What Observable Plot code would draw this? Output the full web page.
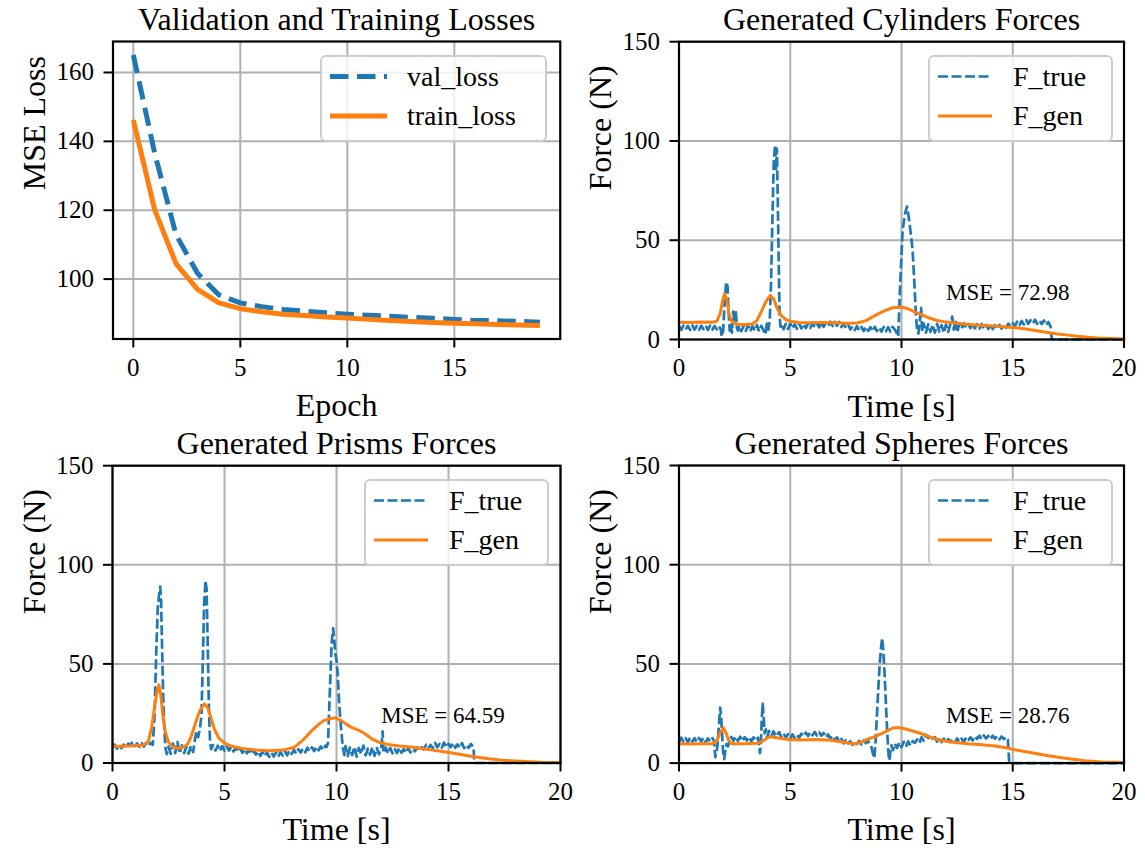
<!DOCTYPE html>
<html><head><meta charset="utf-8">
<script src="https://cdn.jsdelivr.net/npm/d3@7"></script>
<script src="https://cdn.jsdelivr.net/npm/@observablehq/plot@0.6"></script>
<style>
body{margin:0;background:#fff;}
#page{position:relative;width:1145px;height:854px;overflow:hidden;font-family:'Liberation Serif','Times New Roman',serif;background:#fff;}
.panel{position:absolute;}
.legend{position:absolute;box-sizing:border-box;border:2px solid rgba(200,200,200,0.9);border-radius:6px;background:rgba(255,255,255,0.8);}
</style></head><body><div id="page"></div>
<script>
// ---------------- DATA ----------------
const epochs = [0,1,2,3,4,5,6,7,8,9,10,11,12,13,14,15,16,17,18,19];
const valLoss = [165.1,136.5,112.8,101.7,95.4,93.1,92.0,91.2,90.7,90.2,89.8,89.5,89.2,88.9,88.6,88.3,88.0,87.9,87.7,87.5];
const trainLoss = [146.2,120.1,104.4,97.0,93.1,91.4,90.5,89.8,89.4,89.0,88.7,88.3,88.0,87.7,87.4,87.2,87.0,86.8,86.7,86.5];
const lossSeries = ["val_loss","train_loss"];
const forceSeries = ["F_true","F_gen"];
const lossTicksX = [0,5,10,15];
const lossTicksY = [100,120,140,160];
const forceTicksX = [0,5,10,15,20];
const forceTicksY = [0,50,100,150];
const titles = ["Validation and Training Losses","Generated Cylinders Forces","Generated Prisms Forces","Generated Spheres Forces"];
const mseLabels = ["MSE = 72.98","MSE = 64.59","MSE = 28.76"];
const msePos = [12,20];

// Cylinders [time s, force N]
const cylTrue = [[0,6.8],[0.1,4.9],[0.2,7.0],[0.3,5.1],[0.4,6.9],[0.5,4.8],[0.6,7.1],[0.7,5.0],[0.8,6.8],[0.9,4.9],[1.0,7.0],[1.1,5.2],[1.2,6.9],[1.3,4.8],[1.4,7.0],[1.5,5.0],[1.6,6.8],[1.7,5.1],[1.8,6.9],[1.88,5.0],[1.92,1.5],[1.98,4],[2.05,18],[2.12,29],[2.18,27],[2.24,12],[2.28,4.5],[2.33,8],[2.38,3.5],[2.44,14],[2.5,9],[2.55,15],[2.6,6],[2.65,4.5],[2.7,7.0],[2.8,4.2],[2.9,6.8],[3.0,4.3],[3.1,7.2],[3.2,4.1],[3.3,6.7],[3.4,4.4],[3.5,7.3],[3.6,4.0],[3.7,6.9],[3.8,4.6],[3.88,2.5],[3.95,8],[4.02,5],[4.08,10],[4.14,30],[4.2,62],[4.26,90],[4.32,98],[4.36,85],[4.4,96],[4.44,70],[4.48,40],[4.52,12],[4.56,6.5],[4.6,8],[4.7,5.2],[4.8,7.9],[4.9,5.3],[5.0,8.0],[5.1,5.5],[5.2,7.8],[5.3,5.4],[5.4,8.1],[5.5,5.6],[5.6,7.9],[5.7,5.7],[5.8,8.0],[5.9,5.8],[6.0,8.3],[6.1,6.0],[6.2,8.2],[6.3,6.1],[6.4,8.6],[6.5,6.4],[6.6,8.5],[6.7,6.6],[6.8,9.0],[6.9,6.8],[7.0,8.8],[7.1,6.9],[7.2,8.9],[7.3,6.3],[7.4,7.9],[7.5,5.8],[7.6,7.6],[7.7,5.0],[7.8,6.6],[7.9,4.7],[8.0,6.7],[8.1,4.5],[8.2,6.3],[8.3,4.2],[8.4,6.5],[8.5,4.3],[8.6,6.2],[8.7,4.1],[8.8,6.4],[8.9,4.2],[9.0,6.1],[9.1,4.0],[9.2,6.3],[9.3,4.1],[9.4,6.2],[9.5,4.0],[9.6,6.4],[9.75,4.2],[9.85,1.5],[9.95,30],[10.05,55],[10.15,63],[10.25,67],[10.32,62],[10.4,55],[10.5,45],[10.58,28],[10.65,12],[10.7,5],[10.76,3],[10.82,9],[10.88,16],[10.93,4],[11.0,8.0],[11.1,3.5],[11.2,7.6],[11.3,3.8],[11.4,7.5],[11.5,3.4],[11.6,7.9],[11.7,4.0],[11.8,7.2],[11.9,3.3],[12.0,7.5],[12.1,3.8],[12.2,8],[12.28,11.5],[12.35,5],[12.42,10],[12.5,3.5],[12.6,7.9],[12.7,5.4],[12.8,8.2],[12.9,5.8],[13.0,7.9],[13.1,5.7],[13.2,8.1],[13.3,5.6],[13.4,7.7],[13.5,5.5],[13.6,7.8],[13.7,5.4],[13.8,7.4],[13.9,5.3],[14.0,7.5],[14.1,5.2],[14.2,7.2],[14.3,5.3],[14.4,7.4],[14.5,5.5],[14.6,7.3],[14.7,6.0],[14.8,8.0],[14.9,6.3],[15.0,8.2],[15.1,6.8],[15.2,9.0],[15.3,7.2],[15.4,9.3],[15.5,7.6],[15.6,9.8],[15.7,7.9],[15.8,9.7],[15.9,8.0],[16.0,10.0],[16.1,7.9],[16.2,9.6],[16.3,7.8],[16.4,9.6],[16.5,7.2],[16.6,8.8],[16.7,6.5],[16.75,0.5],[16.8,0],[17.5,0],[18.5,0],[20,0]];
const cylGen = [[0,8.7],[0.5,8.6],[1.0,8.8],[1.5,8.7],[1.7,9.2],[1.85,13],[1.95,19],[2.05,23],[2.15,20],[2.25,13],[2.35,9.5],[2.5,8.2],[2.7,7.6],[3.0,7.5],[3.3,7.8],[3.5,9.5],[3.7,14],[3.9,19],[4.1,22.2],[4.25,20.5],[4.4,16],[4.6,12],[4.8,10],[5.0,9.2],[5.4,8.6],[6.0,8.5],[6.5,8.6],[7.0,8.4],[7.5,8.2],[8.0,8.3],[8.4,9.5],[8.8,12],[9.2,14.3],[9.6,16],[10.0,16.4],[10.3,15.5],[10.6,13.8],[11.0,12],[11.25,10.8],[11.6,9.6],[11.9,9.0],[12.4,8.3],[12.9,7.7],[13.5,7.2],[14.2,6.8],[15.0,6.1],[15.5,5.4],[16.0,4.5],[16.5,3.6],[17.0,2.8],[17.5,2.2],[17.9,1.6],[18.4,1.1],[18.8,0.8],[19.4,0.5],[20,0.3]];

// Prisms
const priTrue = [[0,7.4],[0.1,9.2],[0.2,7.3],[0.3,9.1],[0.4,7.5],[0.5,9.3],[0.6,7.6],[0.7,9.8],[0.8,8.8],[0.9,10.8],[1.0,8.5],[1.1,9.9],[1.2,8.2],[1.3,10.0],[1.4,8.3],[1.5,9.9],[1.6,8.4],[1.7,10.1],[1.8,9.2],[1.88,25],[1.95,55],[2.02,78],[2.08,85],[2.13,89],[2.17,82],[2.21,60],[2.26,35],[2.31,18],[2.36,8],[2.42,4.5],[2.5,8.2],[2.6,4.6],[2.7,9.8],[2.8,5.0],[2.9,10.6],[3.0,4.8],[3.1,8.9],[3.2,5.0],[3.3,8.3],[3.4,4.7],[3.5,8.6],[3.6,5.5],[3.68,12],[3.75,16],[3.82,13],[3.9,17],[3.97,24],[4.03,50],[4.09,80],[4.15,92],[4.2,88],[4.25,60],[4.3,30],[4.35,12],[4.4,7.0],[4.5,9.0],[4.6,6.3],[4.7,8.7],[4.8,6.1],[4.9,8.5],[5.0,6.2],[5.1,8.4],[5.2,6.3],[5.3,8.2],[5.4,5.8],[5.5,7.8],[5.6,5.6],[5.7,7.4],[5.8,5.1],[5.9,7.0],[6.0,4.9],[6.1,6.6],[6.2,4.4],[6.3,6.3],[6.4,4.2],[6.5,5.9],[6.6,3.6],[6.7,5.6],[6.8,3.4],[6.9,5.4],[7.0,3.1],[7.1,5.2],[7.2,3.3],[7.3,5.3],[7.4,3.2],[7.5,5.6],[7.6,3.7],[7.7,5.9],[7.8,3.9],[7.9,6.3],[8.0,4.6],[8.1,6.6],[8.2,4.7],[8.3,7.0],[8.4,5.3],[8.5,7.3],[8.6,5.4],[8.7,7.7],[8.8,5.9],[8.9,7.9],[9.0,6.0],[9.1,8.3],[9.2,6.4],[9.3,8.4],[9.4,6.5],[9.5,8.7],[9.55,8.0],[9.62,10],[9.7,35],[9.78,60],[9.85,68],[9.9,62],[9.95,55],[10.0,52],[10.05,45],[10.12,30],[10.2,18],[10.28,8],[10.35,4],[10.4,8.5],[10.5,3.5],[10.6,7.8],[10.7,4.0],[10.8,8.2],[10.9,3.2],[11.0,7.6],[11.1,4.5],[11.2,8.8],[11.3,3.8],[11.4,7.2],[11.5,4.2],[11.6,8.0],[11.7,3.6],[11.8,7.5],[11.9,4.4],[12.0,8.3],[12.06,16],[12.1,5],[12.2,7.8],[12.3,4.7],[12.4,7.6],[12.5,4.9],[12.6,7.0],[12.7,5.0],[12.8,7.7],[12.9,5.2],[13.0,7.0],[13.1,5.1],[13.2,7.6],[13.3,5.3],[13.4,7.1],[13.5,5.9],[13.6,8.0],[13.7,6.4],[13.8,8.0],[13.9,6.8],[14.0,9.2],[14.1,7.4],[14.2,9.1],[14.3,7.6],[14.4,10.2],[14.5,7.9],[14.6,9.6],[14.7,7.7],[14.8,10.3],[14.9,7.9],[15.0,9.7],[15.1,8.0],[15.2,10.1],[15.3,7.7],[15.4,9.4],[15.5,7.6],[15.6,10.0],[15.7,7.5],[15.8,9.2],[15.9,7.6],[16.0,9.6],[16.12,8.0],[16.15,0.5],[16.2,0],[17,0],[18.5,0],[20,0]];
const priGen = [[0,8.4],[0.5,8.5],[1.0,8.7],[1.4,9.1],[1.6,11],[1.75,18],[1.9,30],[2.0,37],[2.07,39.4],[2.15,35],[2.25,24],[2.35,16],[2.5,10.5],[2.7,8],[2.95,7.4],[3.2,8.2],[3.35,9.5],[3.5,13],[3.7,20],[3.9,26.5],[4.1,29.8],[4.25,28],[4.4,22.5],[4.55,17],[4.75,12.5],[5.0,10],[5.3,8.5],[5.8,7.3],[6.4,6.6],[7.0,6.2],[7.6,6.5],[8.1,7.8],[8.5,11.5],[8.85,15.8],[9.2,19.5],[9.45,21.5],[9.7,22.3],[9.95,22.8],[10.2,21.5],[10.45,19.5],[10.7,17.8],[11.0,16.5],[11.3,14.5],[11.6,12],[11.9,10.4],[12.3,9.3],[12.8,8.6],[13.3,8.1],[13.8,7.3],[14.3,6.5],[14.8,5.7],[15.3,4.8],[15.8,3.8],[16.3,2.9],[16.8,2.1],[17.3,1.5],[17.8,1.1],[18.4,0.7],[19.1,0.4],[20,0.3]];

// Spheres
const sphTrue = [[0,10.6],[0.1,12.8],[0.2,10.7],[0.3,12.6],[0.4,10.5],[0.5,12.9],[0.6,10.8],[0.7,12.6],[0.8,10.5],[0.9,12.7],[1.0,10.9],[1.1,12.8],[1.2,10.6],[1.3,12.5],[1.4,10.8],[1.5,12.6],[1.58,11],[1.63,3],[1.68,5],[1.73,9],[1.8,20],[1.85,28],[1.89,24],[1.93,16],[1.98,6],[2.03,2],[2.08,6],[2.14,9.7],[2.2,8.5],[2.28,11.0],[2.35,13.2],[2.45,11.3],[2.55,13.4],[2.65,11.2],[2.75,13.3],[2.85,11.0],[2.95,13.1],[3.05,11.4],[3.15,13.2],[3.25,11.0],[3.35,13.0],[3.45,11.2],[3.55,12.8],[3.6,8],[3.64,5],[3.68,10],[3.72,22],[3.76,30],[3.8,24],[3.85,15],[3.9,17],[3.96,13.0],[4.05,16.2],[4.15,13.6],[4.25,16.0],[4.35,13.4],[4.5,15.6],[4.6,13.1],[4.7,15.0],[4.8,12.8],[4.9,14.6],[5.0,12.3],[5.1,14.4],[5.2,12.6],[5.3,14.2],[5.4,12.7],[5.5,14.8],[5.6,13.5],[5.7,15.4],[5.8,13.6],[5.9,15.6],[6.0,14.0],[6.1,15.7],[6.2,13.9],[6.3,15.5],[6.4,13.8],[6.5,15.2],[6.6,12.9],[6.7,14.4],[6.8,12.4],[6.9,13.8],[7.0,11.4],[7.1,13.0],[7.2,11.0],[7.3,12.2],[7.4,9.9],[7.5,11.5],[7.6,10.0],[7.7,11.0],[7.8,9.2],[7.9,11.0],[8.0,9.6],[8.1,11.2],[8.2,9.4],[8.3,11.4],[8.4,10.0],[8.5,11.2],[8.55,10.2],[8.65,8],[8.72,4.5],[8.78,2.5],[8.84,12],[8.9,25],[8.96,38],[9.02,50],[9.08,58],[9.13,63],[9.18,57],[9.24,45],[9.3,30],[9.36,15],[9.42,4],[9.46,1.2],[9.5,6],[9.55,9],[9.62,6.5],[9.7,9.8],[9.8,7.6],[9.9,10.4],[10.0,8.0],[10.1,10.7],[10.2,8.3],[10.3,10.9],[10.4,8.8],[10.5,11.0],[10.6,10.2],[10.7,11.9],[10.8,10.0],[10.9,13.0],[11.0,11.2],[11.1,14.3],[11.2,12.6],[11.3,14.0],[11.4,12.2],[11.5,13.1],[11.6,10.8],[11.7,12.4],[11.8,10.6],[11.9,12.3],[12.0,10.2],[12.1,12.1],[12.2,10.6],[12.3,12.2],[12.4,10.3],[12.5,12.4],[12.6,10.7],[12.7,12.3],[12.8,10.6],[12.9,12.9],[13.0,11.6],[13.1,13.0],[13.2,11.4],[13.3,13.6],[13.4,12.2],[13.5,13.8],[13.6,12.0],[13.7,13.9],[13.8,12.4],[13.9,13.7],[14.0,12.0],[14.1,13.8],[14.2,12.3],[14.3,13.5],[14.4,11.9],[14.5,13.4],[14.6,12.1],[14.7,13.2],[14.78,11.8],[14.84,0.5],[14.9,0],[16,0],[18,0],[20,0]];
const sphGen = [[0,9.7],[0.5,9.6],[1.0,9.7],[1.5,9.8],[1.7,11.4],[1.85,15.5],[2.0,17.8],[2.12,15],[2.23,11.4],[2.35,10],[2.45,9.7],[3.0,9.8],[3.5,10],[3.7,10.6],[3.9,12.2],[4.1,13.4],[4.4,12.8],[4.9,11.9],[5.5,11.6],[6.2,11.9],[6.8,11.5],[7.2,10.9],[7.6,10.1],[7.9,9.7],[8.2,10.6],[8.5,12.2],[8.8,13.3],[9.1,14.8],[9.4,16.5],[9.63,17.8],[9.9,17.8],[10.15,17.3],[10.5,16.2],[10.9,14.8],[11.3,13],[11.8,11.4],[12.4,10.4],[13.0,9.7],[13.6,9.2],[14.2,8.6],[14.7,7.7],[15.1,6.7],[15.6,5.7],[16.1,4.7],[16.6,3.7],[17.2,2.7],[17.8,1.8],[18.4,1.0],[19.0,0.6],[20,0.3]];

// ---------------- STYLE ----------------
const FONT = "'Liberation Serif','Times New Roman',serif";
const BLUE = "#1f77b4", ORANGE = "#ff7f0e", GRID = "#b0b0b0";
const page = document.getElementById("page");

function makePanel({L, T, W, H, fx0, fx1, fy0, fy1, xDomain, yDomain, xTicks, yTicks, title, xLabel, yLabel, dataMarks, extra = []}) {
  const svg = Plot.plot({
    width: W, height: H,
    marginLeft: fx0 - L, marginRight: L + W - fx1, marginTop: fy0 - T, marginBottom: T + H - fy1,
    style: {fontFamily: FONT, fontSize: "25px", color: "black", background: "transparent", overflow: "visible"},
    x: {domain: xDomain},
    y: {domain: yDomain},
    marks: [
      Plot.gridX(xTicks, {stroke: GRID, strokeOpacity: 1, strokeWidth: 2}),
      Plot.gridY(yTicks, {stroke: GRID, strokeOpacity: 1, strokeWidth: 2}),
      ...dataMarks,
      ...extra,
      Plot.frame({stroke: "black", strokeWidth: 2.2}),
      Plot.axisX({ticks: xTicks, tickSize: 9, tickPadding: 10, strokeWidth: 2, fontSize: 25, label: null}),
      Plot.axisY({ticks: yTicks, tickSize: 9, tickPadding: 10, strokeWidth: 2, fontSize: 25, label: null}),
      Plot.text([title], {text: d => d, frameAnchor: "top", lineAnchor: "middle", dy: -22, fontSize: 32, fill: "black"}),
      Plot.text([xLabel], {text: d => d, frameAnchor: "bottom", lineAnchor: "middle", dy: 67, fontSize: 32, fill: "black"}),
      Plot.text([yLabel], {text: d => d, frameAnchor: "left", lineAnchor: "middle", dx: -78, rotate: -90, fontSize: 32, fill: "black"})
    ]
  });
  svg.classList.add("panel");
  svg.style.left = L + "px";
  svg.style.top = T + "px";
  svg.style.position = "absolute";
  page.appendChild(svg);
}

function makeLegend(boxLeft, boxTop, boxW, items) {
  const boxH = 87;
  const div = document.createElement("div");
  div.className = "legend";
  Object.assign(div.style, {left: boxLeft + "px", top: boxTop + "px", width: boxW + "px", height: boxH + "px"});
  const svg = d3.create("svg").attr("width", boxW).attr("height", boxH)
    .style("position", "absolute").style("left", "-2px").style("top", "-2px").style("overflow", "visible");
  items.forEach((it, i) => {
    const ly = 21.5 + i * 39.5;
    svg.append("line").attr("x1", 10).attr("x2", it.len).attr("y1", ly).attr("y2", ly)
      .attr("stroke", it.color).attr("stroke-width", it.width)
      .attr("stroke-dasharray", it.dash || null).attr("stroke-linecap", "butt");
    svg.append("text").attr("x", it.tx).attr("y", ly + 9).text(it.label)
      .attr("font-family", FONT).attr("font-size", 28).attr("fill", "black");
  });
  div.appendChild(svg.node());
  page.appendChild(div);
}

const rows = arr => arr.map(([t, f]) => ({t, f}));

// ---- Panel 1: losses
const lossData = epochs.map((e, i) => ({epoch: e, val: valLoss[i], train: trainLoss[i]}));
makePanel({
  L: 0, T: 0, W: 572, H: 427, fx0: 112.5, fx1: 559.75, fy0: 41, fy1: 338.5,
  xDomain: [-0.95, 19.95], yDomain: [82.6, 169.0], xTicks: lossTicksX, yTicks: lossTicksY,
  title: titles[0], xLabel: "Epoch", yLabel: "MSE Loss",
  dataMarks: [
    Plot.line(lossData, {x: "epoch", y: "val", stroke: BLUE, strokeWidth: 5, strokeDasharray: "18.5,8.5", strokeLinecap: "butt"}),
    Plot.line(lossData, {x: "epoch", y: "train", stroke: ORANGE, strokeWidth: 5, strokeLinecap: "butt"})
  ]
});
makeLegend(320, 55, 227, [
  {label: lossSeries[0], color: BLUE, width: 5, dash: "18.5,8.5", len: 67, tx: 87},
  {label: lossSeries[1], color: ORANGE, width: 5, len: 67, tx: 87}
]);

// ---- Force panels
const forcePanels = [
  {L: 572, T: 0, fx0: 678.5, fx1: 1123.5, fy0: 41.2, fy1: 339, tr: cylTrue, gn: cylGen},
  {L: 0, T: 427, fx0: 112, fx1: 560, fy0: 465.2, fy1: 762.5, tr: priTrue, gn: priGen},
  {L: 572, T: 427, fx0: 678.5, fx1: 1123.5, fy0: 465, fy1: 762.6, tr: sphTrue, gn: sphGen}
];
forcePanels.forEach((p, i) => {
  makePanel({
    L: p.L, T: p.T, W: p.L === 0 ? 572 : 573, H: 427, fx0: p.fx0, fx1: p.fx1, fy0: p.fy0, fy1: p.fy1,
    xDomain: [0, 20], yDomain: [0, 150], xTicks: forceTicksX, yTicks: forceTicksY,
    title: titles[i + 1], xLabel: "Time [s]", yLabel: "Force (N)",
    dataMarks: [
      Plot.line(rows(p.tr), {x: "t", y: "f", stroke: BLUE, strokeWidth: 2.7, strokeDasharray: "10,3.5", strokeLinecap: "butt", strokeLinejoin: "round"}),
      Plot.line(rows(p.gn), {x: "t", y: "f", stroke: ORANGE, strokeWidth: 3, strokeLinejoin: "round"})
    ],
    extra: [
      Plot.text([mseLabels[i]], {text: d => d, x: () => msePos[0], y: () => msePos[1], textAnchor: "start", lineAnchor: "middle", dy: -7.5, fontSize: 23, fill: "black"})
    ]
  });
  makeLegend(p.fx1 - 11 - 185, p.fy0 + 14, 185, [
    {label: forceSeries[0], color: BLUE, width: 2.7, dash: "10,3.5", len: 64, tx: 85},
    {label: forceSeries[1], color: ORANGE, width: 3, len: 64, tx: 85}
  ]);
});
</script></body></html>
